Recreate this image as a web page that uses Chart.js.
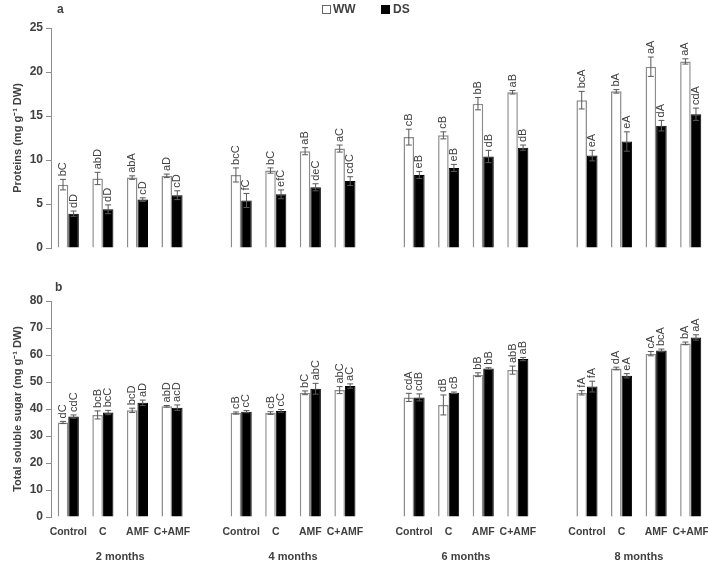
<!DOCTYPE html>
<html>
<head>
<meta charset="utf-8">
<script src="https://cdn.jsdelivr.net/npm/chart.js@4.4.1/dist/chart.umd.min.js"></script>
<style>
  html, body { margin: 0; padding: 0; background: #ffffff; }
  #wrap { position: relative; width: 708px; height: 563px; overflow: hidden; }
  canvas { position: absolute; left: 0; }
  #chartA { top: 0; }
  #chartB { top: 270px; }
  .panel { position: absolute; font: bold 12px 'Liberation Sans', Arial, sans-serif; color: #404040; }
</style>
</head>
<body>
<div id="wrap">
  <canvas id="chartA" width="708" height="290"></canvas>
  <canvas id="chartB" width="708" height="293"></canvas>
  <div class="panel" style="left:57px; top:2px;">a</div>
  <div class="panel" style="left:55px; top:280px;">b</div>
</div>
<script>
// slots: 4 treatments per month, one empty slot between months
const categories = [
  'Control', 'C', 'AMF', 'C+AMF', '',
  'Control', 'C', 'AMF', 'C+AMF', '',
  'Control', 'C', 'AMF', 'C+AMF', '',
  'Control', 'C', 'AMF', 'C+AMF'
];
const months = ['2 months', '4 months', '6 months', '8 months'];

// Panel a - proteins
const proteinWW    = [7.2, 7.9, 8.0, 8.2, null, 8.3, 8.8, 11.0, 11.3, null, 12.6, 12.8, 16.4, 17.7, null, 16.8, 17.8, 20.6, 21.2];
const proteinWWErr = [0.6, 0.7, 0.2, 0.2, null, 0.8, 0.3, 0.4, 0.4, null, 0.9, 0.4, 0.7, 0.2, null, 1.0, 0.2, 1.1, 0.3];
const proteinDS    = [3.9, 4.4, 5.5, 6.0, null, 5.4, 6.1, 6.9, 7.6, null, 8.3, 9.1, 10.4, 11.4, null, 10.5, 12.1, 13.9, 15.2];
const proteinDSErr = [0.3, 0.5, 0.2, 0.5, null, 0.8, 0.5, 0.4, 0.5, null, 0.4, 0.4, 0.7, 0.3, null, 0.6, 1.1, 0.6, 0.7];
const proteinWWLetters = ['bC', 'abD', 'abA', 'aD', null, 'bcC', 'bC', 'aB', 'aC', null, 'cB', 'cB', 'bB', 'aB', null, 'bcA', 'bA', 'aA', 'aA'];
const proteinDSLetters = ['dD', 'dD', 'cD', 'cD', null, 'fC', 'efC', 'deC', 'cdC', null, 'eB', 'eB', 'dB', 'dB', null, 'eA', 'eA', 'dA', 'cdA'];

// Panel b - total soluble sugar
const sugarWW    = [35.0, 37.8, 39.5, 41.0, null, 38.5, 38.5, 46.0, 47.0, null, 44.3, 41.5, 52.7, 54.4, null, 46.0, 55.0, 60.5, 64.3];
const sugarWWErr = [0.4, 1.5, 0.8, 0.3, null, 0.4, 0.5, 0.7, 1.3, null, 1.5, 3.7, 0.7, 1.5, null, 0.8, 0.5, 0.8, 0.5];
const sugarDS    = [37.2, 38.7, 42.3, 40.5, null, 39.0, 39.3, 47.5, 48.5, null, 44.3, 46.0, 55.0, 58.5, null, 48.3, 52.3, 61.7, 66.5];
const sugarDSErr = [0.6, 0.8, 1.0, 1.0, null, 0.4, 0.5, 2.0, 0.8, null, 1.3, 0.3, 0.3, 0.6, null, 2.0, 0.8, 0.5, 1.0];
const sugarWWLetters = ['dC', 'bcB', 'bcD', 'abD', null, 'cB', 'cB', 'bC', 'abC', null, 'cdA', 'dB', 'bB', 'abB', null, 'fA', 'dA', 'cA', 'bA'];
const sugarDSLetters = ['cdC', 'bcC', 'aD', 'acD', null, 'cC', 'cC', 'abC', 'aC', null, 'cdB', 'cB', 'bB', 'aB', null, 'fA', 'eA', 'bcA', 'aA'];

const TEXT = '#404040';
const AXIS = '#8c8c8c';
const FONT = "'Liberation Sans', Arial, sans-serif";

// error bars + rotated significance letters
const errorLabelPlugin = {
  id: 'errorLabels',
  afterDatasetsDraw(chart) {
    const ctx = chart.ctx;
    const y = chart.scales.y;
    chart.data.datasets.forEach((ds, di) => {
      const meta = chart.getDatasetMeta(di);
      ds.data.forEach((v, i) => {
        if (v === null) return;
        const bar = meta.data[i];
        const err = ds.errors[i] || 0;
        const top = y.getPixelForValue(v + err);
        const bot = y.getPixelForValue(v - err);
        ctx.save();
        ctx.strokeStyle = '#595959';
        ctx.lineWidth = 1;
        ctx.beginPath();
        ctx.moveTo(bar.x, top); ctx.lineTo(bar.x, bot);
        ctx.moveTo(bar.x - 3, top); ctx.lineTo(bar.x + 3, top);
        ctx.moveTo(bar.x - 3, bot); ctx.lineTo(bar.x + 3, bot);
        ctx.stroke();
        const txt = ds.letters[i];
        if (txt) {
          ctx.translate(bar.x, top - 3);
          ctx.rotate(-Math.PI / 2);
          ctx.fillStyle = TEXT;
          ctx.font = '11px ' + FONT;
          ctx.textAlign = 'left';
          ctx.textBaseline = 'middle';
          ctx.fillText(txt, 0, 0);
        }
        ctx.restore();
      });
    });
  }
};

// WW / DS legend at top of panel a
const legendPlugin = {
  id: 'topLegend',
  afterDraw(chart, args, opts) {
    if (!opts.show) return;
    const ctx = chart.ctx;
    ctx.save();
    ctx.font = 'bold 12px ' + FONT;
    ctx.textBaseline = 'middle';
    ctx.fillStyle = '#ffffff';
    ctx.strokeStyle = '#666666';
    ctx.lineWidth = 1;
    ctx.fillRect(322.5, 5.5, 8, 8);
    ctx.strokeRect(322.5, 5.5, 8, 8);
    ctx.fillStyle = TEXT;
    ctx.fillText('WW', 333, 10);
    ctx.fillStyle = '#000000';
    ctx.fillRect(381, 5, 9, 9);
    ctx.fillStyle = TEXT;
    ctx.fillText('DS', 393, 10);
    ctx.restore();
  }
};

// month labels under each group of four
const monthPlugin = {
  id: 'monthLabels',
  afterDraw(chart, args, opts) {
    if (!opts.show) return;
    const ctx = chart.ctx;
    const x = chart.scales.x;
    ctx.save();
    ctx.font = 'bold 11px ' + FONT;
    ctx.fillStyle = TEXT;
    ctx.textAlign = 'center';
    ctx.textBaseline = 'middle';
    months.forEach((m, k) => {
      const cx = (x.getPixelForValue(5 * k + 1) + x.getPixelForValue(5 * k + 2)) / 2;
      ctx.fillText(m, cx, chart.chartArea.bottom + 40);
    });
    ctx.restore();
  }
};

const makeChart = (id, cfg) => {
  const showX = cfg.showX;
  return new Chart(document.getElementById(id), {
    type: 'bar',
    data: {
      labels: categories,
      datasets: [
        {
          label: 'WW', data: cfg.ww, errors: cfg.wwErr, letters: cfg.wwLetters,
          backgroundColor: '#ffffff', borderColor: AXIS, borderWidth: 1.5,
          categoryPercentage: 0.61, barPercentage: 1.0
        },
        {
          label: 'DS', data: cfg.ds, errors: cfg.dsErr, letters: cfg.dsLetters,
          backgroundColor: '#000000', borderColor: '#000000', borderWidth: 1,
          categoryPercentage: 0.61, barPercentage: 1.0
        }
      ]
    },
    options: {
      responsive: false,
      animation: false,
      devicePixelRatio: 1,
      layout: { padding: cfg.padding },
      plugins: {
        legend: { display: false },
        tooltip: { enabled: false },
        topLegend: { show: cfg.legend },
        monthLabels: { show: showX }
      },
      scales: {
        x: {
          display: showX,
          offset: true,
          grid: { display: false },
          border: { display: false },
          ticks: {
            autoSkip: false, maxRotation: 0, minRotation: 0, padding: 1,
            color: TEXT, font: { family: FONT, size: 10.5, weight: 'bold' }
          },
          afterFit: (s) => {
            s.height = showX ? 46 : 0;
            s.paddingLeft = 0;
            s.paddingRight = 0;
          }
        },
        y: {
          min: 0, max: cfg.max,
          ticks: {
            stepSize: cfg.step, padding: 3,
            color: TEXT, font: { family: FONT, size: 12, weight: 'bold' }
          },
          grid: { drawOnChartArea: false, drawTicks: true, tickLength: 5, color: AXIS },
          border: { display: true, color: AXIS, width: 1 },
          title: {
            display: true, text: cfg.title, color: TEXT,
            font: { family: FONT, size: 11, weight: 'bold' },
            padding: { top: 11, bottom: 0 }
          },
          afterFit: (s) => { s.width = 51; }
        }
      }
    },
    plugins: [errorLabelPlugin, legendPlugin, monthPlugin]
  });
};

makeChart('chartA', {
  ww: proteinWW, wwErr: proteinWWErr, wwLetters: proteinWWLetters,
  ds: proteinDS, dsErr: proteinDSErr, dsLetters: proteinDSLetters,
  max: 25, step: 5, title: 'Proteins (mg g\u207B\u00B9 DW)',
  showX: false, legend: true,
  padding: { top: 28, bottom: 42, left: 0, right: 0 }
});

makeChart('chartB', {
  ww: sugarWW, wwErr: sugarWWErr, wwLetters: sugarWWLetters,
  ds: sugarDS, dsErr: sugarDSErr, dsLetters: sugarDSLetters,
  max: 80, step: 10, title: 'Total soluble sugar (mg g\u207B\u00B9 DW)',
  showX: true, legend: false,
  padding: { top: 31, bottom: 0, left: 0, right: 0 }
});
</script>
</body>
</html>
